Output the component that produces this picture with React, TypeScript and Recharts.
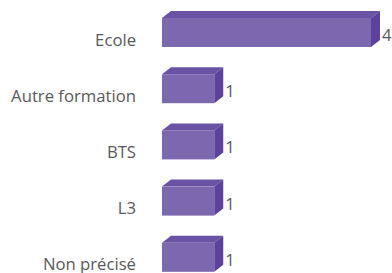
import React from 'react';
import { BarChart, Bar, XAxis, YAxis, LabelList } from 'recharts';

const categories = ['Ecole', 'Autre formation', 'BTS', 'L3', 'Non précisé'];
const counts = [4, 1, 1, 1, 1];

const data = categories.map((name, i) => ({ name, value: counts[i] }));

const FRONT = '#7B68AF';
const TOP = '#6A53A4';
const SIDE = '#5D419E';
const DX = 9;
const DY = 7;
const TEXT = '#595959';
const FONT = '"Open Sans", sans-serif';

const Bar3D = (props: any) => {
  const { x, y, width, height } = props;
  if (width == null || height == null) return null;
  return (
    <g>
      <path
        d={`M${x},${y} L${x + DX},${y - DY} L${x + width + DX},${y - DY} L${x + width},${y} Z`}
        fill={TOP}
      />
      <path
        d={`M${x + width},${y} L${x + width + DX},${y - DY} L${x + width + DX},${y + height - DY} L${x + width},${y + height} Z`}
        fill={SIDE}
      />
      <rect x={x} y={y} width={width} height={height} fill={FRONT} />
    </g>
  );
};

const CatTick = (props: any) => {
  const { x, y, payload } = props;
  return (
    <text x={x} y={y + 7} textAnchor="end" dominantBaseline="central" fill={TEXT} fontSize={16.7} fontFamily={FONT}>
      {payload.value}
    </text>
  );
};

const ValueLabel = (props: any) => {
  const { x, y, width, height, value } = props;
  return (
    <text x={x + width + 11} y={y + height / 2 + 2} dominantBaseline="central" fill={TEXT} fontSize={16.7} fontFamily={FONT}>
      {value}
    </text>
  );
};

export default function App() {
  return (
    <div style={{ position: 'absolute', left: 0, top: 0, width: 392, height: 273, overflow: 'hidden', background: '#fff' }}>
      <BarChart
        width={392}
        height={285}
        data={data}
        layout="vertical"
        margin={{ top: 4, right: 21, bottom: 0, left: 0 }}
        barSize={29}
      >
        <XAxis type="number" domain={[0, 4]} hide />
        <YAxis
          type="category"
          dataKey="name"
          width={162}
          axisLine={false}
          tickLine={false}
          tickSize={6}
          tickMargin={20}
          tick={<CatTick />}
          interval={0}
        />
        <Bar dataKey="value" shape={<Bar3D />} isAnimationActive={false}>
          <LabelList dataKey="value" content={<ValueLabel />} />
        </Bar>
      </BarChart>
    </div>
  );
}
